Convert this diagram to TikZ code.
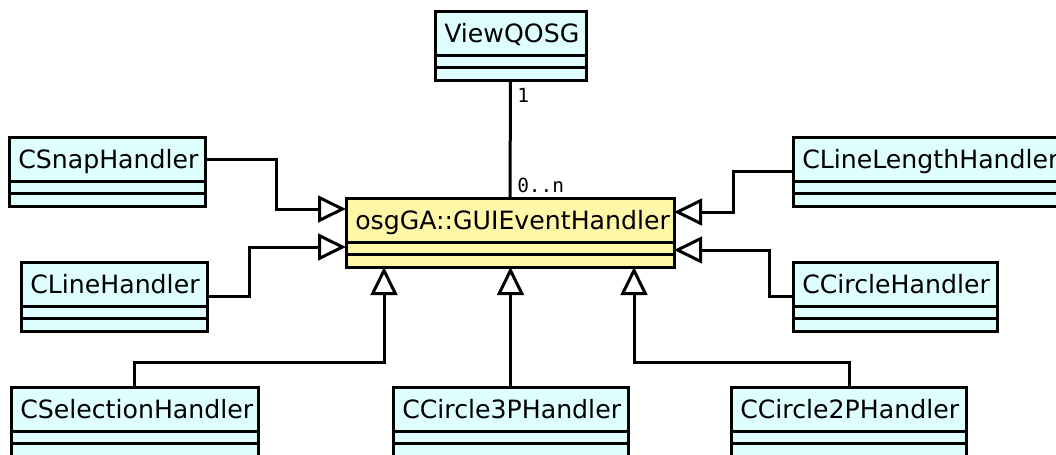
\documentclass[tikz,border=0pt]{standalone}
\usepackage{fontspec}
\setmainfont{DejaVu Sans}
\newfontfamily\monof{DejaVu Sans Mono}
\usetikzlibrary{arrows.meta,calc}
\definecolor{clscyan}{RGB}{223,255,255}
\definecolor{clsyellow}{RGB}{255,247,168}
\tikzset{
  clsbox/.style={draw=black, line width=2.25pt, inner sep=0pt, outer sep=0pt, minimum height=51.75pt},
  clsline/.style={draw=black, line width=2.25pt},
  clstext/.style={anchor=base west, inner sep=0pt, font=\fontsize{18.9}{22}\selectfont},
  multlabel/.style={anchor=base west, inner sep=0pt, font=\monof\fontsize{14.6}{17}\selectfont},
  inh/.style={draw=black, line width=2.25pt, -{Triangle[open, fill=white, length=21pt, width=20pt]}},
  assoc/.style={draw=black, line width=2.25pt},
}
\newcommand{\umlcls}[6]{%
  \node[clsbox, fill=#6, anchor=north west, minimum width={(#4-#2)*0.75pt}] (#1) at (#2,#3) {};
  \node[clstext] (#1-name) at (#2+9,#3+31) {#5};
  \draw[clsline] (#2,#3+44) -- (#4,#3+44);
  \draw[clsline] (#2,#3+56.5) -- (#4,#3+56.5);
}
\begin{document}
\begin{tikzpicture}[x=0.75pt, y=-0.75pt]
\useasboundingbox (0,0) rectangle (1056,454);
\clip (0,0) rectangle (1056,454);
\umlcls{view}{435}{11}{586}{ViewQOSG}{clscyan}
\umlcls{gui}{346}{198}{674}{osgGA::GUIEventHandler}{clsyellow}
\umlcls{snap}{9}{137}{205}{CSnapHandler}{clscyan}
\umlcls{cline}{21}{262}{207}{CLineHandler}{clscyan}
\umlcls{csel}{11}{387}{258}{CSelectionHandler}{clscyan}
\umlcls{cthree}{393}{387}{628}{CCircle3PHandler}{clscyan}
\umlcls{ctwo}{731}{387}{966}{CCircle2PHandler}{clscyan}
\umlcls{clen}{793}{137}{1072}{CLineLengthHandler}{clscyan}
\umlcls{ccirc}{793}{262}{997}{CCircleHandler}{clscyan}
% association
\draw[assoc] (view.south) -- (gui.north);
\node[multlabel] (m1) at (517,102) {1};
\node[multlabel] (m2) at (517,192) {0..n};
% generalizations
\draw[inh] ($(snap.north east)+(0,22)$) -- ++(71,0) |- ($(gui.north west)+(0,11)$);
\draw[inh] (cline.east) -- ++(42,0) |- ($(gui.north west)+(0,49)$);
\draw[inh] (clen.west) -- ++(-60,0) |- ($(gui.north east)+(0,14)$);
\draw[inh] (ccirc.west) -- ++(-24,0) |- ($(gui.north east)+(0,52)$);
\draw[inh] ($(csel.north west)+(123,0)$) -- ++(0,-25) -| ($(gui.south west)+(38,0)$);
\draw[inh] (cthree.north) -- (cthree.north |- gui.south);
\draw[inh] ($(ctwo.north west)+(118,0)$) -- ++(0,-25) -| ($(gui.south east)+(-40,0)$);
\end{tikzpicture}
\end{document}
